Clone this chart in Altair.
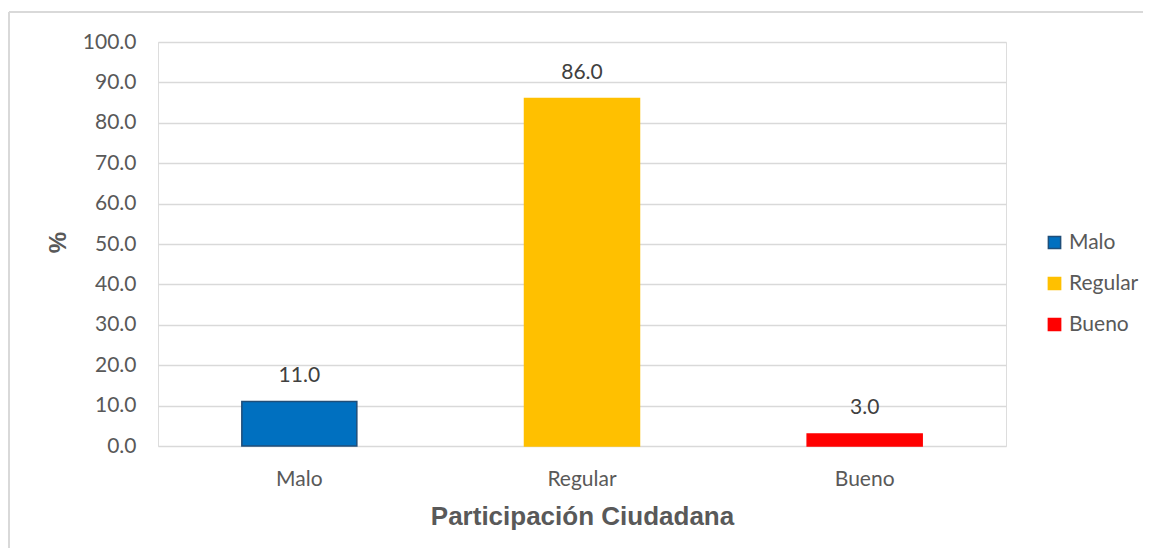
import altair as alt
import pandas as pd

categories = ["Malo", "Regular", "Bueno"]
values = [11.0, 86.0, 3.0]
colors = ["#0070C0", "#FFC000", "#FF0000"]
strokes = ["#1F4E79", "#FFC000", "#FF0000"]
y_ticks = [0, 10, 20, 30, 40, 50, 60, 70, 80, 90, 100]

df = pd.DataFrame({"cat": categories, "val": values})
df["label"] = df["val"].map(lambda v: f"{v:.1f}")

FONT = "Lato"
GREY = "#595959"

x_enc = alt.X("cat:N", sort=categories,
              scale=alt.Scale(paddingInner=0, paddingOuter=0),
              axis=alt.Axis(title="Participación Ciudadana", labelAngle=0,
                            labelFont=FONT, labelFontSize=21, labelColor=GREY,
                            labelPadding=22, ticks=False, domain=False,
                            titleFont="Liberation Sans", titleFontSize=26,
                            titleFontWeight="bold", titleColor=GREY, titlePadding=14))
y_enc = alt.Y("val:Q", scale=alt.Scale(domain=[0, 100]),
              axis=alt.Axis(title="%", values=y_ticks, format=".1f",
                            labelFont=FONT, labelFontSize=21, labelColor=GREY,
                            labelPadding=22, ticks=False, domain=False,
                            gridColor="#D9D9D9", gridWidth=1.3,
                            titleFont="Liberation Sans", titleFontSize=24,
                            titleFontWeight="bold", titleColor=GREY,
                            titleX=-100, titleY=200, titleAngle=-90,
                            titleBaseline="middle", titleAlign="center"))

bars = alt.Chart(df).mark_bar(size=115, strokeWidth=1.5).encode(
    x=x_enc, y=y_enc,
    color=alt.Color("cat:N", sort=categories,
                    scale=alt.Scale(domain=categories, range=colors),
                    legend=alt.Legend(title=None, orient="none", legendX=886, legendY=190,
                                      symbolType="square", symbolSize=150,
                                      symbolStrokeWidth=1.5,
                                      labelFont=FONT, labelFontSize=21, labelColor=GREY,
                                      rowPadding=19, labelOffset=4)),
    stroke=alt.Stroke("cat:N", sort=categories,
                      scale=alt.Scale(domain=categories, range=strokes), legend=None),
)

labels = alt.Chart(df).mark_text(font=FONT, fontSize=21, color="#404040", dy=-16,
                                 baseline="bottom").encode(
    x=alt.X("cat:N", sort=categories), y="val:Q", text="label:N")

border_left = alt.Chart(df).mark_rule(stroke="#D9D9D9", strokeWidth=2).encode(
    x=alt.value(-149), y=alt.value(-30), y2=alt.value(700))
border_top = alt.Chart(df).mark_rule(stroke="#D9D9D9", strokeWidth=2).encode(
    x=alt.value(-149), x2=alt.value(985), y=alt.value(-30))

chart = alt.layer(border_left, border_top, bars, labels).properties(
    width=848, height=404,
    autosize=alt.AutoSizeParams(type="none"),
    padding={"left": 150, "top": 34, "right": 138, "bottom": 102},
).configure_view(stroke=None).configure(background="white")

chart.save("out.html", embed_options={"renderer": "svg", "actions": False})
